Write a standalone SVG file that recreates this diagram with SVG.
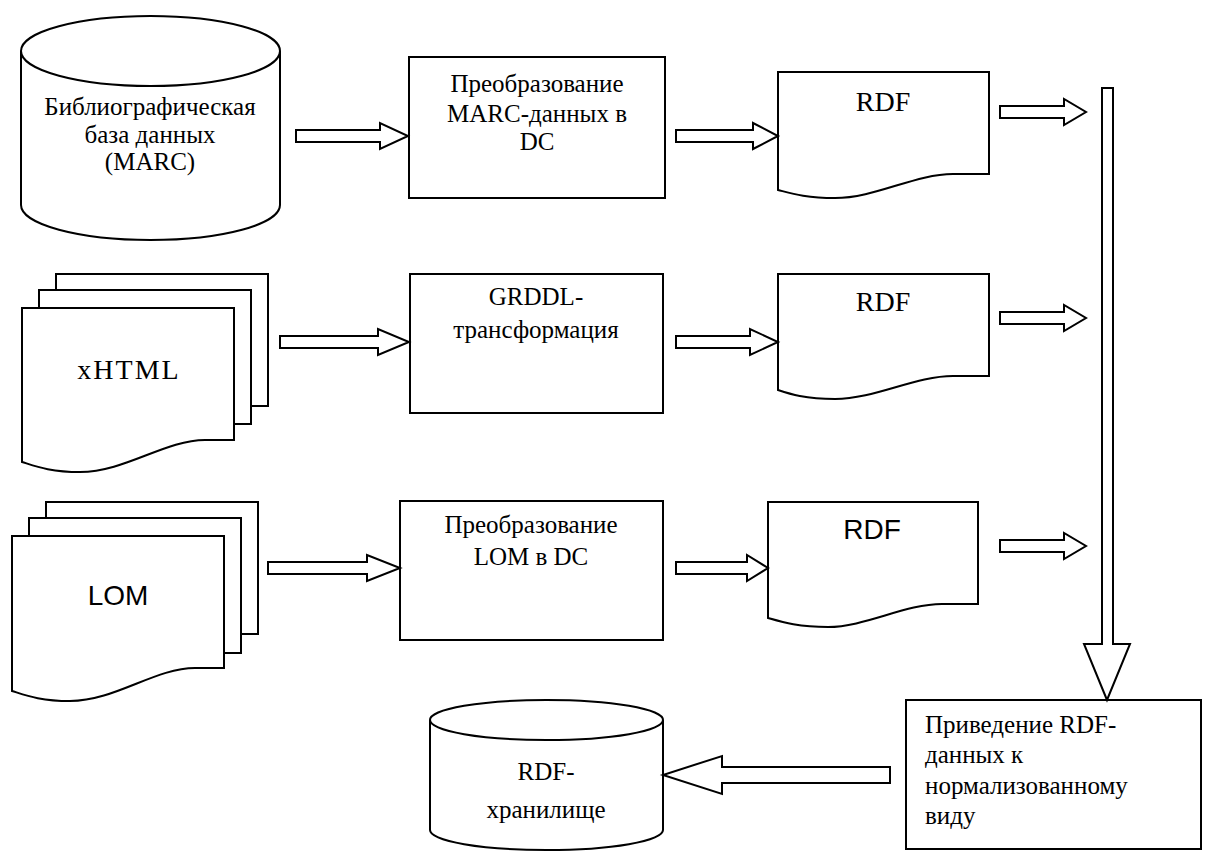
<svg xmlns="http://www.w3.org/2000/svg" width="1205" height="859" viewBox="0 0 1205 859">
  <style>
    .shape { fill: #fff; stroke: #000; stroke-width: 2; }
    .arrow { fill: #fff; stroke: #000; stroke-width: 2; stroke-linejoin: miter; }
    .serif { font-family: "Liberation Serif", "Times New Roman", serif; font-size: 25px; fill: #000; }
    .big { font-family: "Liberation Serif", "Times New Roman", serif; font-size: 28px; fill: #000; }
    .sans { font-family: "Liberation Sans", Arial, sans-serif; font-size: 28px; fill: #000; }
  </style>
  <rect width="1205" height="859" fill="#fff"/>

  <!-- Bibliographic database (cylinder) -->
  <g id="marc-db">
    <path class="shape" d="M21,51 V205 A129.5,35 0 0 0 280,205 V51"/>
    <ellipse class="shape" cx="150.5" cy="51" rx="129.5" ry="35"/>
    <text class="serif" text-anchor="middle" x="150" y="115">Библиографическая</text>
    <text class="serif" text-anchor="middle" x="150" y="143">база данных</text>
    <text class="serif" text-anchor="middle" x="150" y="170">(MARC)</text>
  </g>

  <!-- MARC to DC conversion -->
  <g id="marc-to-dc">
    <rect class="shape" x="409" y="57" width="256" height="141"/>
    <text class="serif" text-anchor="middle" x="537" y="92">Преобразование</text>
    <text class="serif" text-anchor="middle" x="537" y="122">MARC-данных в</text>
    <text class="serif" text-anchor="middle" x="537" y="150">DC</text>
  </g>

  <!-- RDF document, row 1 -->
  <g id="rdf-1">
    <path class="shape" d="M778,72 H989 V174 H953 C915,174 875,198 835,198 C805,198 790,193 778,190 Z"/>
    <text class="big" text-anchor="middle" x="883" y="111">RDF</text>
  </g>

  <!-- xHTML stack -->
  <g id="xhtml">
    <rect class="shape" x="56" y="274" width="212" height="132"/>
    <rect class="shape" x="39" y="290" width="212" height="134"/>
    <path class="shape" d="M22,308 H234 V440 H205 C165,440 125,472 80,472 C50,472 35,466 22,462 Z"/>
    <text class="big" text-anchor="middle" x="129" y="379" letter-spacing="2">xHTML</text>
  </g>

  <!-- GRDDL transformation -->
  <g id="grddl">
    <rect class="shape" x="410" y="274" width="253" height="139"/>
    <text class="serif" text-anchor="middle" x="536" y="305">GRDDL-</text>
    <text class="serif" text-anchor="middle" x="536" y="338">трансформация</text>
  </g>

  <!-- RDF document, row 2 -->
  <g id="rdf-2">
    <path class="shape" d="M778,274 H989 V376 H953 C915,376 875,399 835,399 C805,399 790,394 778,390 Z"/>
    <text class="big" text-anchor="middle" x="883" y="311">RDF</text>
  </g>

  <!-- LOM stack -->
  <g id="lom">
    <rect class="shape" x="46" y="502" width="212" height="132"/>
    <rect class="shape" x="29" y="518" width="212" height="135"/>
    <path class="shape" d="M12,536 H224 V668 H195 C155,668 115,701 70,701 C40,701 25,695 12,691 Z"/>
    <text class="sans" text-anchor="middle" x="118" y="605">LOM</text>
  </g>

  <!-- LOM to DC conversion -->
  <g id="lom-to-dc">
    <rect class="shape" x="400" y="501" width="263" height="139"/>
    <text class="serif" text-anchor="middle" x="531" y="533">Преобразование</text>
    <text class="serif" text-anchor="middle" x="531" y="565">LOM в DC</text>
  </g>

  <!-- RDF document, row 3 -->
  <g id="rdf-3">
    <path class="shape" d="M768,502 H978 V604 H942 C905,604 865,627 828,627 C798,627 782,622 768,618 Z"/>
    <text class="sans" text-anchor="middle" x="872" y="539">RDF</text>
  </g>

  <!-- RDF normalisation -->
  <g id="normalize">
    <rect class="shape" x="906" y="700" width="295" height="149"/>
    <text class="serif" x="925" y="733">Приведение RDF-</text>
    <text class="serif" x="925" y="763">данных к</text>
    <text class="serif" x="925" y="794">нормализованному</text>
    <text class="serif" x="925" y="824">виду</text>
  </g>

  <!-- RDF store (cylinder) -->
  <g id="rdf-store">
    <path class="shape" d="M430,720 V830 A116.5,20 0 0 0 663,830 V720"/>
    <ellipse class="shape" cx="546.5" cy="720" rx="116.5" ry="20"/>
    <text class="serif" text-anchor="middle" x="546" y="780" font-size="26">RDF-</text>
    <text class="serif" text-anchor="middle" x="546" y="818" font-size="26">хранилище</text>
  </g>

  <!-- Block arrows -->
  <g id="connectors">
    <polygon class="arrow" points="296,130 380,130 380,123 408,136 380,149 380,142 296,142"/>
    <polygon class="arrow" points="676,130 753,130 753,123 778,136 753,149 753,142 676,142"/>
    <polygon class="arrow" points="1000,106 1064,106 1064,99 1086,112 1064,125 1064,118 1000,118"/>

    <polygon class="arrow" points="280,336 378,336 378,329 409,342 378,355 378,348 280,348"/>
    <polygon class="arrow" points="676,336 750,336 750,329 778,342 750,355 750,348 676,348"/>
    <polygon class="arrow" points="1000,312 1064,312 1064,305 1086,318 1064,331 1064,324 1000,324"/>

    <polygon class="arrow" points="268,562 367,562 367,555 400,568 367,581 367,574 268,574"/>
    <polygon class="arrow" points="676,562 747,562 747,555 768,568 747,581 747,574 676,574"/>
    <polygon class="arrow" points="1000,540 1064,540 1064,533 1086,546 1064,559 1064,552 1000,552"/>

    <polygon class="arrow" points="1102,88 1113,88 1113,644 1130,644 1107,700 1084,644 1102,644"/>

    <polygon class="arrow" points="890,767 722,767 722,756 663,775 722,794 722,783 890,783"/>
  </g>
</svg>
